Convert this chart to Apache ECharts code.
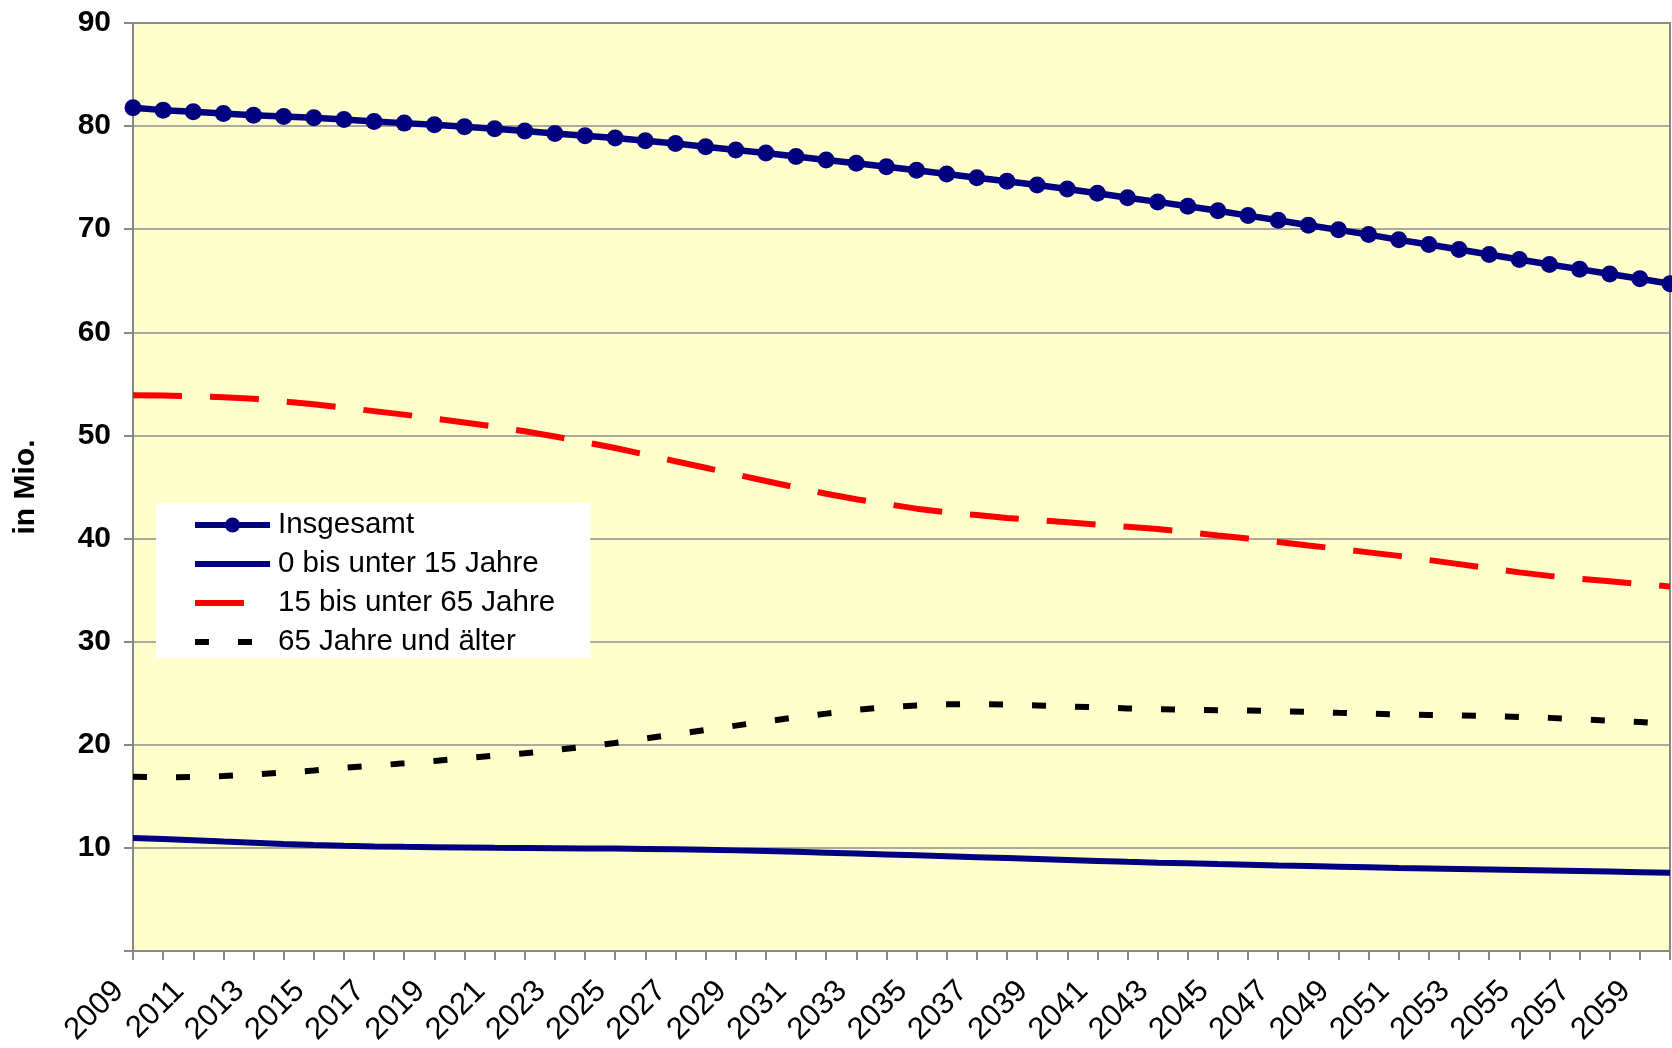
<!DOCTYPE html>
<html>
<head>
<meta charset="utf-8">
<script src="https://cdn.jsdelivr.net/npm/echarts@6/dist/echarts.min.js"></script>
<style>
html,body{margin:0;padding:0;background:#fff;}
#chart{width:1672px;height:1048px;}
</style>
</head>
<body>
<div id="chart"></div>
<script>
const years = ['2009','2010','2011','2012','2013','2014','2015','2016','2017','2018','2019','2020','2021','2022','2023','2024','2025','2026','2027','2028','2029','2030','2031','2032','2033','2034','2035','2036','2037','2038','2039','2040','2041','2042','2043','2044','2045','2046','2047','2048','2049','2050','2051','2052','2053','2054','2055','2056','2057','2058','2059','2060'];

const insgesamt = [81.77,81.55,81.39,81.23,81.06,80.94,80.81,80.65,80.45,80.29,80.13,79.94,79.74,79.52,79.29,79.06,78.84,78.58,78.31,78.00,77.68,77.39,77.06,76.71,76.39,76.06,75.71,75.35,75.00,74.65,74.29,73.90,73.48,73.06,72.65,72.23,71.79,71.32,70.87,70.39,69.94,69.48,68.97,68.52,68.03,67.55,67.06,66.58,66.13,65.65,65.19,64.71];

const unter15 = [10.97,10.86,10.75,10.62,10.50,10.38,10.28,10.20,10.14,10.10,10.07,10.04,10.01,9.99,9.97,9.95,9.93,9.90,9.86,9.82,9.76,9.69,9.62,9.54,9.46,9.37,9.28,9.19,9.10,9.01,8.92,8.83,8.74,8.65,8.57,8.50,8.43,8.37,8.30,8.24,8.18,8.12,8.06,8.01,7.96,7.91,7.86,7.81,7.76,7.71,7.65,7.58];

const von15bis65 = [53.90,53.88,53.80,53.70,53.55,53.30,53.03,52.70,52.36,52.02,51.64,51.26,50.85,50.40,49.90,49.35,48.78,48.15,47.50,46.87,46.22,45.58,44.95,44.35,43.82,43.35,42.90,42.55,42.28,42.00,41.80,41.58,41.36,41.15,40.92,40.62,40.30,40.00,39.67,39.33,39.00,38.66,38.32,37.92,37.52,37.12,36.72,36.38,36.10,35.85,35.60,35.35];

const ab65 = [16.90,16.85,16.88,16.97,17.12,17.31,17.50,17.77,17.98,18.20,18.43,18.70,18.95,19.18,19.48,19.82,20.18,20.60,21.02,21.43,21.86,22.27,22.66,23.02,23.40,23.65,23.80,23.92,23.94,23.90,23.82,23.72,23.63,23.53,23.46,23.40,23.36,23.33,23.27,23.19,23.10,23.02,22.94,22.89,22.85,22.77,22.70,22.61,22.47,22.34,22.20,22.02];

const seriesNames = ['Insgesamt','0 bis unter 15 Jahre','15 bis unter 65 Jahre','65 Jahre und älter'];
const yTicks = [0,10,20,30,40,50,60,70,80,90];

const FONT = "'Liberation Sans', Arial, sans-serif";
const chart = echarts.init(document.getElementById('chart'), null, {renderer:'canvas'});
const noSymbol = {color: 'rgba(0,0,0,0)', borderWidth: 0};

chart.setOption({
  animation: false,
  backgroundColor: '#ffffff',
  textStyle: {fontFamily: FONT, color: '#000'},
  grid: {
    left: 133, right: 2, top: 23, bottom: 96,
    show: true, backgroundColor: '#FFFFCC', borderColor: '#888888', borderWidth: 2
  },
  legend: {
    orient: 'vertical',
    left: 156, top: 503,
    backgroundColor: '#ffffff',
    padding: [7, 35, 1, 36],
    itemWidth: 75, itemHeight: 19, itemGap: 9,
    lineStyle: {width: 6},
    textStyle: {fontFamily: FONT, fontSize: 29.5, lineHeight: 30, color: '#000', padding: [0,0,0,3]},
    data: [
      {name: seriesNames[0]},
      {name: seriesNames[1], itemStyle: noSymbol},
      {name: seriesNames[2], itemStyle: noSymbol},
      {name: seriesNames[3], itemStyle: noSymbol}
    ]
  },
  xAxis: {
    type: 'category',
    data: years,
    boundaryGap: false,
    axisLine: {show: true, lineStyle: {color: '#888888', width: 2}},
    axisTick: {show: true, interval: 0, length: 9, lineStyle: {color: '#888888', width: 2}},
    axisLabel: {interval: 1, rotate: 45, fontSize: 31, fontFamily: FONT, color: '#000', margin: 21,
      padding: [0, 20, 0, 0]},
    splitLine: {show: false}
  },
  yAxis: {
    type: 'value',
    min: yTicks[0], max: yTicks[yTicks.length-1], interval: 10,
    name: 'in Mio.',
    nameLocation: 'middle',
    nameGap: 92,
    nameTextStyle: {fontFamily: FONT, fontSize: 30, fontWeight: 'bold', color: '#000'},
    axisLine: {show: true, lineStyle: {color: '#888888', width: 2}},
    axisTick: {show: true, length: 9, lineStyle: {color: '#888888', width: 2}},
    axisLabel: {fontSize: 30, fontWeight: 'bold', fontFamily: FONT, color: '#000', margin: 22,
      formatter: v => v === 0 ? '' : String(v)},
    splitLine: {show: true, lineStyle: {color: '#8c8c8c', width: 1.5}}
  },
  series: [
    {
      name: seriesNames[0], type: 'line', data: insgesamt,
      symbol: 'circle', symbolSize: 17, showSymbol: true,
      lineStyle: {color: '#000080', width: 6.5},
      itemStyle: {color: '#000080'},
      z: 5
    },
    {
      name: seriesNames[1], type: 'line', data: unter15,
      symbol: 'none', showSymbol: false,
      lineStyle: {color: '#000080', width: 6},
      itemStyle: {color: '#000080'},
      z: 4
    },
    {
      name: seriesNames[2], type: 'line', data: von15bis65,
      symbol: 'none', showSymbol: false,
      lineStyle: {color: '#FF0000', width: 6, type: [49, 28]},
      itemStyle: {color: '#FF0000'},
      z: 3
    },
    {
      name: seriesNames[3], type: 'line', data: ab65,
      symbol: 'none', showSymbol: false,
      lineStyle: {color: '#000000', width: 6, type: [14, 29], cap: 'butt'},
      itemStyle: {color: '#000000'},
      z: 2
    }
  ]
});
</script>
</body>
</html>
